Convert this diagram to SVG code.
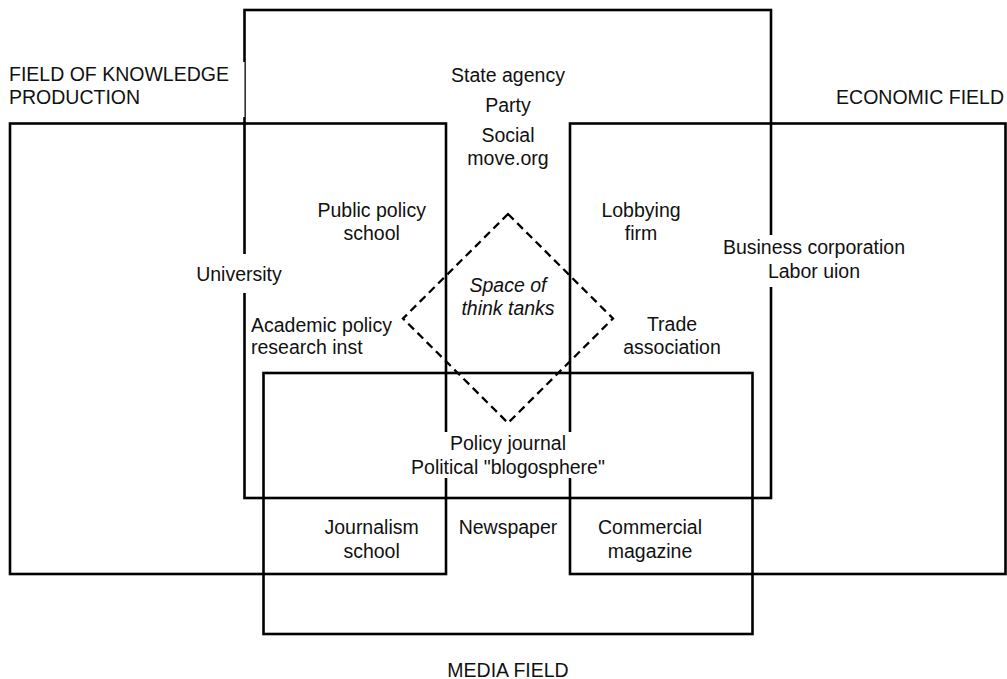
<svg xmlns="http://www.w3.org/2000/svg" width="1007" height="679" viewBox="0 0 1007 679">
<style>
.field{fill:none;stroke:#000;stroke-width:2.6}
.space{fill:none;stroke:#000;stroke-width:2.3;stroke-dasharray:8 5}
.bg{fill:#fff;stroke:none}
text{font-family:"Liberation Sans",Arial,sans-serif;font-size:19.5px;fill:#111}
.c{text-anchor:middle}
.e{text-anchor:end}
.i{font-style:italic}
</style>
<rect width="1007" height="679" fill="#fff"/>
<g id="fields">
  <rect id="knowledge-field" class="field" x="10" y="123.5" width="436" height="450.5"/>
  <rect id="political-field" class="field" x="244.5" y="10" width="526.5" height="488"/>
  <rect id="economic-field" class="field" x="570" y="123.5" width="435.5" height="450.5"/>
  <rect id="media-field" class="field" x="263.5" y="373" width="489" height="261"/>
</g>
<g id="think-tank-space">
  <polygon class="space" points="508,214 613,318.5 508,423 403,318.5"/>
  <text class="c i" x="508" y="291.7">Space of</text>
  <text class="c i" x="508" y="315">think tanks</text>
</g>
<g id="label-knowledge">
  <rect class="bg" x="4" y="62" width="240.5" height="55"/>
  <text x="9" y="81">FIELD OF KNOWLEDGE</text>
  <text x="9" y="104">PRODUCTION</text>
</g>
<g id="label-economic">
  <text class="e" x="1004" y="104">ECONOMIC FIELD</text>
</g>
<g id="label-media">
  <text class="c" x="508" y="676.5">MEDIA FIELD</text>
</g>
<g id="node-state">
  <text class="c" x="508" y="82">State agency</text>
  <text class="c" x="508" y="111.5">Party</text>
  <text class="c" x="508" y="141.5">Social</text>
  <text class="c" x="508" y="165">move.org</text>
</g>
<g id="node-public-policy-school">
  <text class="c" x="371.7" y="216.7">Public policy</text>
  <text class="c" x="371.7" y="240">school</text>
</g>
<g id="node-university">
  <rect class="bg" x="192" y="254" width="94" height="39"/>
  <text class="c" x="239" y="280.5">University</text>
</g>
<g id="node-academic">
  <text x="251" y="331.7">Academic policy</text>
  <text x="251" y="353.5">research inst</text>
</g>
<g id="node-lobbying">
  <text class="c" x="641" y="216.7">Lobbying</text>
  <text class="c" x="641" y="240">firm</text>
</g>
<g id="node-trade">
  <text class="c" x="672" y="330.7">Trade</text>
  <text class="c" x="672" y="354">association</text>
</g>
<g id="node-business">
  <rect class="bg" x="718" y="235" width="192" height="52"/>
  <text class="c" x="814" y="254.3">Business corporation</text>
  <text class="c" x="814" y="278">Labor uion</text>
</g>
<g id="node-policy-journal">
  <rect class="bg" x="407" y="432" width="201" height="46"/>
  <text class="c" x="508" y="450">Policy journal</text>
  <text class="c" x="508" y="474">Political "blogosphere"</text>
</g>
<g id="node-journalism">
  <text class="c" x="371.6" y="534.3">Journalism</text>
  <text class="c" x="371.6" y="558">school</text>
</g>
<g id="node-newspaper">
  <text class="c" x="508" y="534.3">Newspaper</text>
</g>
<g id="node-commercial">
  <text class="c" x="650" y="534.3">Commercial</text>
  <text class="c" x="650" y="558">magazine</text>
</g>
</svg>
